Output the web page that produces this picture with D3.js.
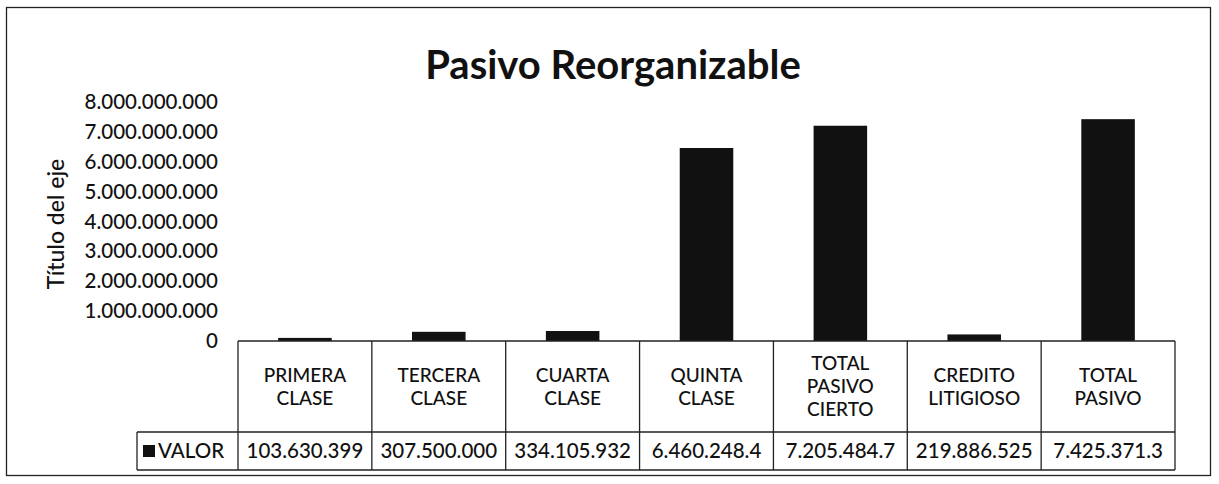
<!DOCTYPE html>
<html>
<head>
<meta charset="utf-8">
<script src="https://cdn.jsdelivr.net/npm/d3@7"></script>
<style>
  body { margin: 0; background: #fff; }
  text { font-family: Lato, "Open Sans", sans-serif; fill: #111; font-weight: 500; }
</style>
</head>
<body>
<svg id="chart" width="1219" height="484"></svg>
<script>
// data
var categories = ["PRIMERA CLASE", "TERCERA CLASE", "CUARTA CLASE", "QUINTA CLASE",
                  "TOTAL PASIVO CIERTO", "CREDITO LITIGIOSO", "TOTAL PASIVO"];
var catLines = [["PRIMERA", "CLASE"], ["TERCERA", "CLASE"], ["CUARTA", "CLASE"], ["QUINTA", "CLASE"],
                ["TOTAL", "PASIVO", "CIERTO"], ["CREDITO", "LITIGIOSO"], ["TOTAL", "PASIVO"]];
var values = [103630399, 307500000, 334105932, 6460248400, 7205484700, 219886525, 7425371300];
var yTicks = [0, 1e9, 2e9, 3e9, 4e9, 5e9, 6e9, 7e9, 8e9];
var seriesName = "VALOR";

var svg = d3.select("#chart");
var loc = d3.formatLocale({decimal: ",", thousands: ".", grouping: [3], currency: ["", ""]});
var fmt = loc.format(",d");

var left = 238, right = 1175, y0 = 341, yTop = 102;
var rowMid = 432, rowBot = 470, legendLeft = 137;

var x = d3.scaleBand().domain(categories).range([left, right]).padding(0);
var y = d3.scaleLinear().domain([0, 8e9]).range([y0, yTop]);

// frame
svg.append("rect").attr("x", 6.5).attr("y", 7.5).attr("width", 1204).attr("height", 468)
  .attr("fill", "none").attr("stroke", "#222").attr("stroke-width", 1.3);

// title
svg.append("text").attr("x", 613).attr("y", 79).attr("text-anchor", "middle")
  .style("font-size", "40px").style("font-weight", "bold").text("Pasivo Reorganizable");

// y axis title
svg.append("text").attr("transform", "translate(64,224) rotate(-90)")
  .attr("text-anchor", "middle").style("font-size", "23px").text("Título del eje");

// y axis
var yAxis = d3.axisLeft(y).tickValues(yTicks).tickFormat(fmt).tickSize(0).tickPadding(0);
var gy = svg.append("g").attr("transform", "translate(218,0)").call(yAxis);
gy.select(".domain").remove();
gy.selectAll("text").style("font-size", "20.5px").attr("fill", "#111")
  .style("font-family", "Lato, sans-serif").style("font-weight", "500");

// bars
var barW = x.bandwidth() * 0.4;
svg.selectAll(".bar").data(values).enter().append("rect")
  .attr("class", "bar")
  .attr("x", function(d, i) { return x(categories[i]) + (x.bandwidth() - barW) / 2; })
  .attr("y", function(d) { return y(d); })
  .attr("width", barW)
  .attr("height", function(d) { return y0 - y(d); })
  .attr("fill", "#111");

// data table
var tbl = svg.append("g").attr("stroke", "#222").attr("stroke-width", 1.3).attr("fill", "none");
tbl.append("line").attr("x1", left).attr("x2", right).attr("y1", y0).attr("y2", y0);
tbl.append("line").attr("x1", legendLeft).attr("x2", right).attr("y1", rowMid).attr("y2", rowMid);
tbl.append("line").attr("x1", legendLeft).attr("x2", right).attr("y1", rowBot).attr("y2", rowBot);
tbl.append("line").attr("x1", legendLeft).attr("x2", legendLeft).attr("y1", rowMid).attr("y2", rowBot);
categories.forEach(function(c) {
  tbl.append("line").attr("x1", x(c)).attr("x2", x(c)).attr("y1", y0).attr("y2", rowBot);
});
tbl.append("line").attr("x1", right).attr("x2", right).attr("y1", y0).attr("y2", rowBot);

// category labels
categories.forEach(function(c, i) {
  var lines = catLines[i];
  var cx = x(c) + x.bandwidth() / 2;
  var midY = (y0 + rowMid) / 2;
  var lh = 23;
  lines.forEach(function(t, k) {
    svg.append("text").attr("x", cx)
      .attr("y", midY + (k - (lines.length - 1) / 2) * lh)
      .attr("dy", "0.35em").attr("text-anchor", "middle")
      .style("font-size", "19px").text(t);
  });
});

// value row (Excel clips long numbers to the cell)
values.forEach(function(v, i) {
  var s = fmt(v);
  if (s.length > 11) s = s.slice(0, 11);
  svg.append("text").attr("x", x(categories[i]) + x.bandwidth() / 2)
    .attr("y", (rowMid + rowBot) / 2).attr("dy", "0.35em").attr("text-anchor", "middle")
    .style("font-size", "20.5px").text(s);
});

// legend cell
svg.append("rect").attr("x", 143).attr("y", 445).attr("width", 12).attr("height", 12).attr("fill", "#111");
svg.append("text").attr("x", 158).attr("y", (rowMid + rowBot) / 2).attr("dy", "0.35em")
  .style("font-size", "20.5px").text(seriesName);
</script>
</body>
</html>
